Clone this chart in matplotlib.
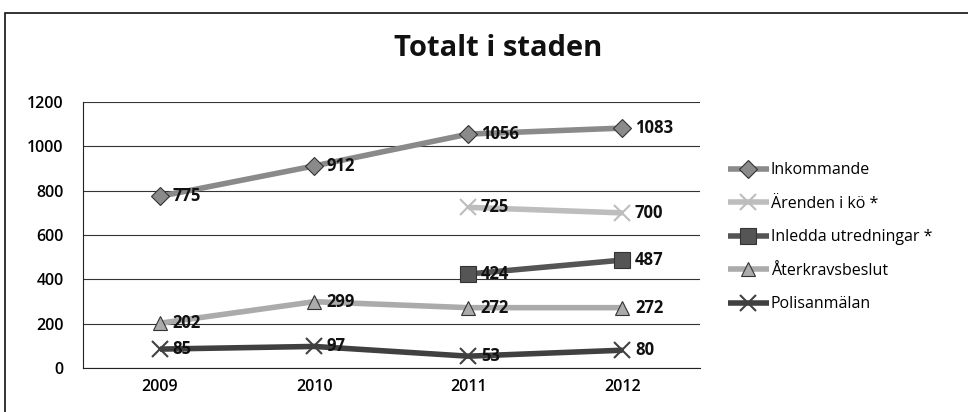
import matplotlib
matplotlib.use("Agg")
import matplotlib.pyplot as plt
from matplotlib.patches import Rectangle
import numpy as np

plt.rcParams['font.family'] = ['Open Sans', 'DejaVu Sans']

years = ["2009", "2010", "2011", "2012"]
inkommande = [775, 912, 1056, 1083]
arenden = [None, None, 725, 700]
inledda = [None, None, 424, 487]
aterkrav = [202, 299, 272, 272]
polis = [85, 97, 53, 80]

series = [
    ("Inkommande", inkommande, "#8a8a8a", "D", 9),
    ("Ärenden i kö *", arenden, "#bdbdbd", "x", 11),
    ("Inledda utredningar *", inledda, "#555555", "s", 12),
    ("Återkravsbeslut", aterkrav, "#ababab", "^", 10),
    ("Polisanmälan", polis, "#404040", "x", 12),
]

fig = plt.figure(figsize=(9.68, 4.12), dpi=100)
ax = fig.add_axes([0.0857, 0.107, 0.637, 0.645])

x = np.arange(len(years))
for name, vals, col, mk, ms in series:
    xs = [xi for xi, v in zip(x, vals) if v is not None]
    ys = [v for v in vals if v is not None]
    ax.plot(xs, ys, color=col, lw=4, marker=mk, ms=ms, mec="#333333" if mk != "x" else col,
            mew=1.5 if mk == "x" else 0.8, mfc=col, label=name, zorder=3,
            solid_capstyle="butt")
    for xi, v in zip(xs, ys):
        ax.annotate(str(v), (xi, v), xytext=(9, 0), textcoords="offset points",
                    ha="left", va="center", fontsize=12, fontweight="bold",
                    color="#111111", zorder=4)

ax.set_xlim(-0.5, 3.5)
ax.set_ylim(0, 1200)
ax.set_yticks(range(0, 1201, 200))
ax.set_xticks(x)
ax.set_xticklabels(years)
ax.yaxis.grid(True, color="#333333", lw=0.8)
ax.set_axisbelow(True)
for s in ["top", "right"]:
    ax.spines[s].set_visible(False)
ax.spines["left"].set_color("#222222")
ax.spines["bottom"].set_color("#222222")
ax.tick_params(axis="both", length=0, labelsize=11.5, pad=8)
for lab in ax.get_yticklabels() + ax.get_xticklabels():
    lab.set_fontweight("semibold")
ax.tick_params(axis="y", pad=14)

fig.text(0.515, 0.882, "Totalt i staden", ha="center", va="center",
         fontsize=21, fontweight="bold", color="#111111")

leg = fig.legend(loc="upper left", bbox_to_anchor=(0.745, 0.622), frameon=False,
                 fontsize=11.5, handlelength=2.6, handletextpad=0.1, labelspacing=1.1,
                 borderaxespad=0)

fig.patches.append(Rectangle((0.005, -0.05), 1.1, 0.968 + 0.05,
                             transform=fig.transFigure, fill=False, ec="#111111", lw=1.2))

fig.savefig("out.png", dpi=100)
